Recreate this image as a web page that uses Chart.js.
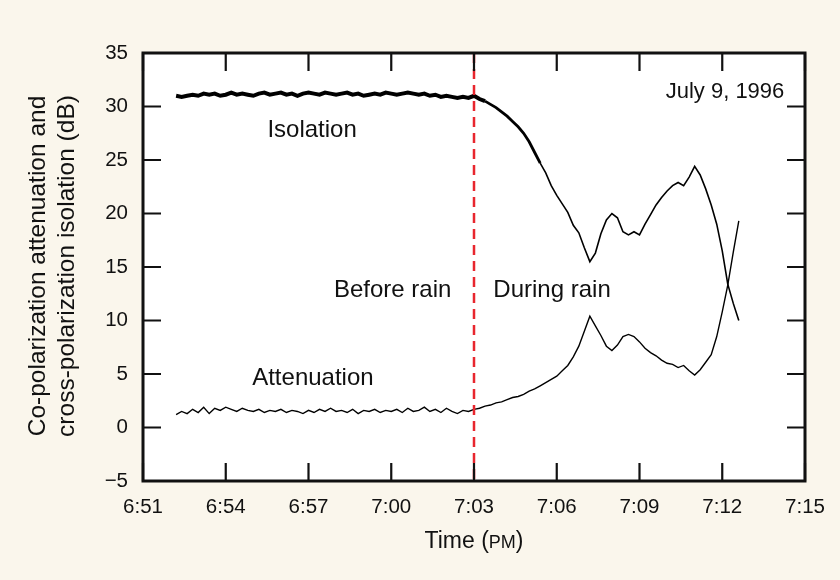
<!DOCTYPE html>
<html>
<head>
<meta charset="utf-8">
<script src="https://cdn.jsdelivr.net/npm/chart.js@4/dist/chart.umd.min.js"></script>
<style>
  html, body { margin: 0; padding: 0; background: #faf6ec; }
  #wrap { width: 840px; height: 580px; }
</style>
</head>
<body>
<div id="wrap"><canvas id="rainChart" width="840" height="580"></canvas></div>
<script>
// time in minutes after 6:51 PM
const times = [
  1.2, 1.4, 1.6, 1.8, 2.0, 2.2, 2.4, 2.6, 2.8, 3.0,
  3.2, 3.4, 3.6, 3.8, 4.0, 4.2, 4.4, 4.6, 4.8, 5.0,
  5.2, 5.4, 5.6, 5.8, 6.0, 6.2, 6.4, 6.6, 6.8, 7.0,
  7.2, 7.4, 7.6, 7.8, 8.0, 8.2, 8.4, 8.6, 8.8, 9.0,
  9.2, 9.4, 9.6, 9.8, 10.0, 10.2, 10.4, 10.6, 10.8, 11.0,
  11.2, 11.4, 11.6, 11.8,
  12.0, 12.2, 12.4, 12.6, 12.8, 13.0, 13.2, 13.4, 13.6, 13.8,
  14.0, 14.2, 14.4, 14.6, 14.8, 15.0, 15.2, 15.4, 15.6, 15.8,
  16.0, 16.2, 16.4, 16.6, 16.8, 17.0, 17.2, 17.4, 17.6, 17.8,
  18.0, 18.2, 18.4, 18.6, 18.8, 19.0, 19.2, 19.4, 19.6, 19.8,
  20.0, 20.2, 20.4, 20.6, 20.8, 21.0, 21.2, 21.4, 21.6
];

const isolation = [
  31.0, 30.9, 31.0, 31.1, 31.0, 31.2, 31.1, 31.2, 31.0, 31.1,
  31.3, 31.1, 31.2, 31.1, 31.0, 31.2, 31.3, 31.1, 31.2, 31.3,
  31.1, 31.2, 31.0, 31.2, 31.3, 31.2, 31.1, 31.3, 31.2, 31.1,
  31.2, 31.3, 31.1, 31.2, 31.0, 31.1, 31.2, 31.1, 31.3, 31.2,
  31.1, 31.2, 31.3, 31.2, 31.1, 31.2, 31.0, 31.1, 30.9, 31.0,
  30.9, 30.8, 30.9, 30.8,
  31.0, 30.7, 30.5, 30.2, 29.9, 29.5, 29.1, 28.6, 28.1, 27.5,
  26.7, 25.7, 24.7, 23.8, 22.6, 21.7, 20.9, 20.1, 18.9, 18.2,
  16.8, 15.5, 16.3, 18.1, 19.4, 20.0, 19.6, 18.3, 18.0, 18.3,
  18.0, 19.0, 19.9, 20.8, 21.5, 22.1, 22.6, 22.9, 22.6, 23.4,
  24.4, 23.6, 22.3, 20.8, 19.0, 16.5, 13.4, 11.6, 10.0
];

const attenuation = [
  1.2, 1.5, 1.3, 1.7, 1.4, 1.9, 1.3, 1.8, 1.6, 1.9,
  1.7, 1.5, 1.8, 1.6, 1.5, 1.7, 1.4, 1.6, 1.5, 1.7,
  1.4, 1.6, 1.5, 1.3, 1.6, 1.4, 1.7, 1.5, 1.8, 1.5,
  1.6, 1.4, 1.7, 1.3, 1.6, 1.5, 1.7, 1.4, 1.6, 1.5,
  1.7, 1.4, 1.8, 1.5, 1.6, 1.9, 1.5, 1.7, 1.4, 1.8,
  1.5, 1.3, 1.6, 1.5,
  1.7, 1.8, 2.0, 2.1, 2.3, 2.4, 2.6, 2.8, 2.9, 3.1,
  3.4, 3.6, 3.9, 4.2, 4.5, 4.8, 5.3, 5.8, 6.6, 7.6,
  9.0, 10.4, 9.5, 8.6, 7.6, 7.2, 7.7, 8.5, 8.7, 8.5,
  8.0, 7.4, 7.0, 6.7, 6.3, 6.0, 5.9, 5.6, 5.8, 5.3,
  4.9, 5.4, 6.1, 6.8, 8.5, 10.8, 13.3, 16.4, 19.3
];

const timeLabels = ['6:51', '6:54', '6:57', '7:00', '7:03', '7:06', '7:09', '7:12', '7:15'];
const yTicks = [-5, 0, 5, 10, 15, 20, 25, 30, 35];
const rainStart = 12; // 7:03

const FONT = '"Liberation Sans", Arial, Helvetica, sans-serif';

const notes = [
  { text: 'Isolation', x: 6.13, y: 27.8, size: 24 },
  { text: 'Attenuation', x: 6.16, y: 4.6, size: 24 },
  { text: 'Before rain', x: 9.05, y: 12.8, size: 24 },
  { text: 'During rain', x: 14.83, y: 12.8, size: 24 },
  { text: 'July 9, 1996', x: 21.1, y: 31.35, size: 22 }
];

// frame, inward ticks, rain line, labels and titles
const decorPlugin = {
    id: 'decor',
    beforeDraw(chart) {
        const { ctx, width, height, chartArea: a } = chart;
        ctx.save();
        ctx.fillStyle = '#faf6ec';
        ctx.fillRect(0, 0, width, height);
        ctx.fillStyle = '#ffffff';
        ctx.fillRect(a.left, a.top, a.right - a.left, a.bottom - a.top);
        ctx.restore();
    },
    afterDatasetsDraw(chart) {
        const { ctx, chartArea: a, scales: { x, y } } = chart;
        ctx.save();

        // rain start line
        ctx.strokeStyle = '#e8262e';
        ctx.lineWidth = 2.5;
        ctx.setLineDash([10, 6]);
        const rx = x.getPixelForValue(rainStart);
        ctx.beginPath();
        ctx.moveTo(rx, a.top);
        ctx.lineTo(rx, a.bottom);
        ctx.stroke();
        ctx.setLineDash([]);

        // inward ticks
        ctx.strokeStyle = '#111';
        ctx.lineWidth = 2.2;
        const tl = 18;
        ctx.beginPath();
        yTicks.forEach(v => {
            const py = y.getPixelForValue(v);
            ctx.moveTo(a.left, py); ctx.lineTo(a.left + tl, py);
            ctx.moveTo(a.right, py); ctx.lineTo(a.right - tl, py);
        });
        timeLabels.forEach((l, i) => {
            const px = x.getPixelForValue(i * 3);
            ctx.moveTo(px, a.bottom); ctx.lineTo(px, a.bottom - tl);
            ctx.moveTo(px, a.top); ctx.lineTo(px, a.top + tl);
        });
        ctx.stroke();

        // frame
        ctx.lineWidth = 3;
        ctx.strokeRect(a.left, a.top, a.right - a.left, a.bottom - a.top);

        // notes
        ctx.fillStyle = '#111';
        ctx.textAlign = 'center';
        ctx.textBaseline = 'middle';
        notes.forEach(n => {
            ctx.font = n.size + 'px ' + FONT;
            ctx.fillText(n.text, x.getPixelForValue(n.x), y.getPixelForValue(n.y));
        });

        // y title
        ctx.save();
        ctx.font = '24.5px ' + FONT;
        ctx.translate(38, 266);
        ctx.rotate(-Math.PI / 2);
        ctx.fillText('Co-polarization attenuation and', 0, 0);
        ctx.fillText('cross-polarization isolation (dB)', 0, 29);
        ctx.restore();

        // x title with small caps PM
        const cx = (a.left + a.right) / 2;
        const ty = 548;
        ctx.textAlign = 'left';
        ctx.textBaseline = 'alphabetic';
        ctx.font = '18px ' + FONT;
        const wPM = ctx.measureText('PM').width;
        ctx.font = '23px ' + FONT;
        const w1 = ctx.measureText('Time (').width;
        const w3 = ctx.measureText(')').width;
        const sx = cx - (w1 + wPM + w3) / 2;
        ctx.fillText('Time (', sx, ty);
        ctx.font = '18px ' + FONT;
        ctx.fillText('PM', sx + w1, ty);
        ctx.font = '23px ' + FONT;
        ctx.fillText(')', sx + w1 + wPM, ty);

        ctx.restore();
    }
};

const toPoints = vals => vals.map((v, i) => ({ x: times[i], y: v }));

new Chart(document.getElementById('rainChart'), {
    type: 'line',
    data: {
        datasets: [
            {
                label: 'Isolation',
                data: toPoints(isolation),
                borderColor: '#000',
                borderWidth: 4,
                pointRadius: 0,
                tension: 0,
                segment: {
                    borderWidth: c => c.p0.parsed.x < 12.4 ? 4 : (c.p0.parsed.x < 14.4 ? 2.8 : 1.6)
                }
            },
            {
                label: 'Attenuation',
                data: toPoints(attenuation),
                borderColor: '#000',
                borderWidth: 1.4,
                pointRadius: 0,
                tension: 0
            }
        ]
    },
    options: {
        responsive: false,
        animation: false,
        events: [],
        layout: { padding: { left: 0, top: 53, right: 35, bottom: 0 } },
        plugins: {
            legend: { display: false },
            tooltip: { enabled: false }
        },
        scales: {
            x: {
                type: 'linear',
                min: 0,
                max: 24,
                grid: { display: false },
                border: { display: false },
                afterFit: axis => { axis.height = 99; },
                ticks: {
                    stepSize: 3,
                    padding: 6,
                    color: '#111',
                    font: { family: FONT, size: 20.5 },
                    maxRotation: 0,
                    callback: v => timeLabels[Math.round(v / 3)]
                }
            },
            y: {
                min: -5,
                max: 35,
                grid: { display: false },
                border: { display: false },
                afterFit: axis => { axis.width = 143; },
                ticks: {
                    stepSize: 5,
                    padding: 7,
                    color: '#111',
                    font: { family: FONT, size: 20.5 },
                    callback: v => (v < 0 ? '\u2212' + Math.abs(v) : v)
                }
            }
        }
    },
    plugins: [decorPlugin]
});
</script>
</body>
</html>
